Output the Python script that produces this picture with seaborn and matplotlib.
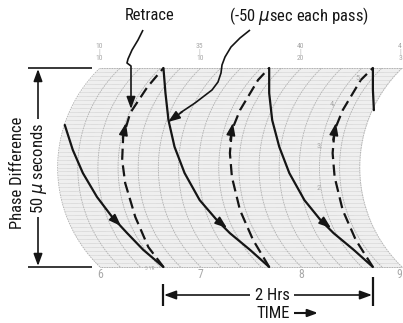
import numpy as np
import matplotlib
matplotlib.use('Agg')
import matplotlib.pyplot as plt
import seaborn as sns

# Traces: hour position on the paper and phase (usec)
s1_hr = [5.65, 5.73, 5.83, 5.97, 6.12, 6.27, 6.43, 6.63]
s1_us = [35.7, 29.4, 23.6, 17.6, 12.6, 8.5, 4.3, 0.0]
r1_hr = [6.63, 6.48, 6.35, 6.25, 6.22, 6.23, 6.30, 6.47, 6.63]
r1_us = [0.0, 5.0, 12.6, 21.1, 26.9, 32.7, 38.7, 45.2, 50.0]
s2_hr = [6.63, 6.65, 6.68, 6.74, 6.84, 6.99, 7.16, 7.29, 7.49, 7.68]
s2_us = [50.0, 43.7, 36.9, 30.2, 23.6, 16.8, 11.8, 8.5, 4.3, 0.0]
r2_hr = [7.68, 7.52, 7.39, 7.31, 7.29, 7.31, 7.39, 7.57, 7.68]
r2_us = [0.0, 6.8, 14.3, 22.6, 28.6, 34.4, 39.4, 47.0, 50.0]
s3_hr = [7.68, 7.68, 7.71, 7.78, 7.88, 8.03, 8.19, 8.32, 8.52, 8.71]
s3_us = [50.0, 43.7, 36.9, 30.2, 23.6, 16.8, 11.8, 8.5, 4.3, 0.0]
r3_hr = [8.71, 8.54, 8.41, 8.33, 8.31, 8.33, 8.41, 8.59, 8.71]
r3_us = [0.0, 6.8, 14.3, 22.6, 28.6, 34.4, 39.4, 47.0, 50.0]
s4_hr = [8.71, 8.71, 8.72]
s4_us = [50.0, 44.5, 39.4]

# chart paper printing
hour_ticks = [6, 7, 8, 9]
hour_labels = ['6', '7', '8', '9']
top_labels = ['10\n|\n10', '35\n|\n10', '40\n|\n20', '4\n|\n3']
scale_labels = ['5,', '4,', '3,', '2']

PX_PER_HR = 100.7
PX_PER_US = 3.98
R = 138.0
INK = '#151515'
PAPER = '#a8a8a8'


def px(x, y):
    # pixel position on the figure -> (hour, usec)
    return 6 + (x - 100) / PX_PER_HR, (267 - y) / PX_PER_US


def arc(hour, us):
    # time lines on the recorder paper are circular arcs
    dy = (np.asarray(us) - 25) * PX_PER_US
    return hour - (np.sqrt(R ** 2 - dy ** 2) - np.sqrt(R ** 2 - (25 * PX_PER_US) ** 2)) / PX_PER_HR


def head(ax, tail, tip, lw=1.2, scale=12):
    ax.annotate('', xy=px(*tip), xytext=px(*tail),
                arrowprops=dict(arrowstyle='-|>,head_length=0.6,head_width=0.22',
                                color=INK, lw=lw, mutation_scale=scale,
                                shrinkA=0, shrinkB=0))


def line(ax, pts, lw=1.2):
    xs, ys = zip(*[px(x, y) for x, y in pts])
    ax.plot(xs, ys, color=INK, lw=lw, solid_capstyle='butt')


sns.set_theme(style='white')
plt.rcParams['font.family'] = ['Roboto Condensed', 'Liberation Sans Narrow', 'Roboto', 'DejaVu Sans']

fig = plt.figure(figsize=(4.03, 3.23), dpi=100)
ax = fig.add_axes([0, 0, 1, 1])
ax.set_xlim(px(0, 0)[0], px(403, 0)[0])
ax.set_ylim(px(0, 323)[1], px(0, 0)[1])
ax.axis('off')

# Chart paper
us = np.linspace(0, 50, 201)
ax.fill_betweenx(us, arc(6, us), arc(9, us), color='#efefef', lw=0)
for u in np.arange(0, 50.1, 1.0):
    ax.plot([arc(6, u), arc(9, u)], [u, u], color='#c2c2c2', lw=0.45, ls=(0, (1, 0.7)))
for h in np.arange(6, 9.01, 0.2):
    ax.plot(arc(h, us), us, color='#b0b0b0', lw=0.6, ls=(0, (2, 1)))
for u in [0, 50]:
    ax.plot([6, 9], [u, u], color='#a0a0a0', lw=0.6, ls=(0, (1, 1)))

for h, lab in zip(hour_ticks, hour_labels):
    ax.text(min(h, 8.975), px(0, 275)[1], lab, ha='center', va='center', fontsize=8.5, color=PAPER)
for h, lab in zip(hour_ticks, top_labels):
    ax.text(min(h - 0.01, 8.98), px(0, 52)[1], lab, ha='center', va='center', fontsize=5.5,
            color=PAPER, linespacing=0.85)
ax.text(*px(150, 268), '5 YR', ha='center', va='center', fontsize=3.8, color=PAPER)
for (x, y), lab in zip([(358, 77), (333, 103), (319, 145), (319, 188)], scale_labels):
    ax.text(*px(x, y), lab, ha='center', va='center', fontsize=6, color=PAPER)

# Recorded traces
for hr, u in [(s1_hr, s1_us), (s2_hr, s2_us), (s3_hr, s3_us), (s4_hr, s4_us)]:
    sns.lineplot(x=hr, y=u, sort=False, estimator=None, color=INK, lw=1.6, ax=ax)
for hr, u in [(r1_hr, r1_us), (r2_hr, r2_us), (r3_hr, r3_us)]:
    sns.lineplot(x=hr, y=u, sort=False, estimator=None, color=INK, lw=1.6, ax=ax,
                 linestyle=(0, (5, 2.5)))

# direction arrows on the traces
head(ax, (112, 217), (121, 226))
head(ax, (217, 220), (227, 228))
head(ax, (321, 220), (331, 228))
head(ax, (123, 137), (126, 123))
head(ax, (230, 140), (233, 123))
head(ax, (333, 140), (336, 123))

# Callouts
ax.text(*px(150, 16), 'Retrace', ha='center', va='center', fontsize=12, color=INK)
ax.text(*px(299, 16), '(-50 $\\mu$sec each pass)', ha='center', va='center',
        fontsize=12, color=INK)
line(ax, [(143, 30), (138, 40), (132, 50), (128, 59), (127, 63), (131, 66),
          (131, 75), (131, 92), (131, 100)])
head(ax, (131, 98), (131, 109))
line(ax, [(250, 30), (240, 38), (231, 47), (225, 57), (222, 65), (221, 73),
          (218, 82), (212, 90), (195, 103), (180, 113)])
head(ax, (182, 112), (168, 122))

# Phase difference dimension
line(ax, [(28, 68), (92, 68)])
line(ax, [(28, 267), (92, 267)])
line(ax, [(38, 119), (38, 80)])
head(ax, (38, 80), (38, 69))
line(ax, [(38, 217), (38, 255)])
head(ax, (38, 255), (38, 266))
ax.text(*px(17, 173), 'Phase Difference', rotation=90, ha='center', va='center',
        fontsize=12, color=INK)
ax.text(*px(39, 168), '50 $\\mu$ seconds', rotation=90, ha='center', va='center',
        fontsize=12, color=INK)

# Time dimension
line(ax, [(163, 284), (163, 306)], lw=1.6)
line(ax, [(373, 277), (373, 306)], lw=1.6)
line(ax, [(250, 295), (176, 295)])
head(ax, (176, 295), (164, 295))
line(ax, [(294, 295), (360, 295)])
head(ax, (360, 295), (372, 295))
ax.text(*px(272, 295), '2 Hrs', ha='center', va='center', fontsize=12, color=INK)
ax.text(*px(273, 313), 'TIME', ha='center', va='center', fontsize=12, color=INK)
line(ax, [(294, 313), (308, 313)], lw=1.5)
head(ax, (306, 313), (318, 313), lw=1.5, scale=10)

fig.savefig('out.png', dpi=100)
